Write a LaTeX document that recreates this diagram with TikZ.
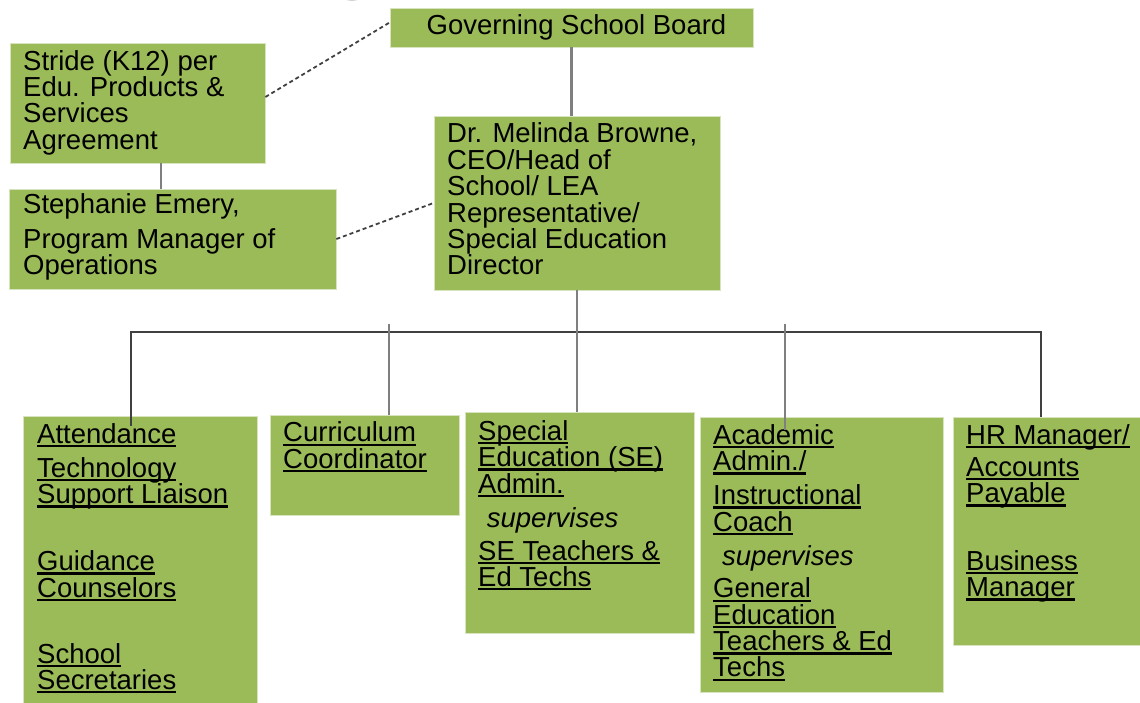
\documentclass[tikz,border=0pt]{standalone}
\usepackage{fontspec}
\setmainfont{Liberation Sans}
\definecolor{boxg}{HTML}{9BBB59}
\definecolor{lineg}{HTML}{7F7F7F}
\definecolor{lined}{HTML}{404040}
\newcommand\myul[1]{\setbox0\hbox{#1}\rlap{\rule[-4pt]{\wd0}{2.2pt}}\box0}
\newcommand\fs{\rule{0pt}{20.5pt}}
\tikzset{
  box/.style={rectangle, fill=boxg, draw=white!60!boxg, line width=0.8pt, inner sep=0pt},
  txt/.style={anchor=north west, inner sep=0pt, align=left, font=\fontsize{27.5}{26.4}\selectfont, text=black},
  solidline/.style={draw=lineg, line width=2.4pt},
  busline/.style={draw=lined, line width=1.8pt},
  dashline/.style={draw=lined, line width=1.8pt, dash pattern=on 4pt off 3pt}
}
\begin{document}
\begin{tikzpicture}[x=1pt,y=-1pt]
\useasboundingbox (0,0) rectangle (1140,703);
% fragment at top
\fill[gray!35] (352,-7) ellipse [x radius=12, y radius=8];
% boxes
\node[box, minimum width=363, minimum height=39, font=\fontsize{27.5}{26.4}\selectfont] (gsb) at (571.5,27.5) {\hspace*{10pt}Governing School Board};
\node[box, minimum width=255, minimum height=120] (stride) at (137.5,103) {};
\node[box, minimum width=327, minimum height=100] (steph) at (172.5,239) {};
\node[box, minimum width=286, minimum height=174] (mel) at (577,203) {};
\node[box, minimum width=234, minimum height=290] (att) at (140,561) {};
\node[box, minimum width=189, minimum height=100] (cur) at (364.5,465) {};
\node[box, minimum width=229, minimum height=221] (se) at (579.5,522.5) {};
\node[box, minimum width=243, minimum height=275] (ac) at (821.5,554.5) {};
\node[box, minimum width=190, minimum height=228] (hr) at (1048,531) {};
% texts
\node[txt] (stridet) at (23,49.5) {\fs Stride (K12) per\\ Edu. Products \&\\ Services\\ Agreement};
\node[txt] (stepht) at (23,192.5) {\fs Stephanie Emery,\\[8.6pt] Program Manager of\\ Operations};
\node[txt] (melt) at (447,122.2) {\fs Dr. Melinda Browne,\\ CEO/Head of\\ School/ LEA\\ Representative/\\ Special Education\\ Director};
\node[txt] (attt) at (37,422.5) {\fs\myul{Attendance}\\[7.6pt] \myul{Technology}\\ \myul{Support Liaison}\\[40.6pt] \myul{Guidance}\\ \myul{Counselors}\\[39.6pt] \myul{School}\\ \myul{Secretaries}};
\node[txt] (curt) at (283,421.2) {\fs\myul{Curriculum}\\ \myul{Coordinator}};
\node[txt] (set) at (478,419.5) {\fs\myul{Special}\\ \myul{Education (SE)}\\ \myul{Admin.}\\[7.6pt] \hspace*{8.7pt}{\itshape supervises}\\[6.6pt] \myul{SE Teachers \&}\\ \myul{Ed Techs}};
\node[txt] (act) at (713,423.5) {\fs\myul{Academic}\\ \myul{Admin./}\\[7.6pt] \myul{Instructional}\\ \myul{Coach}\\[7.6pt] \hspace*{9pt}{\itshape supervises}\\[6.3pt] \myul{General}\\ \myul{Education}\\ \myul{Teachers \& Ed}\\ \myul{Techs}};
\node[txt] (hrt) at (966,423.5) {\fs\myul{HR Manager/}\\[5.6pt] \myul{Accounts}\\ \myul{Payable}\\[41.2pt] \myul{Business}\\ \myul{Manager}};
% connectors
\coordinate (busL) at (131,332);
\coordinate (busR) at (1041,332);
\draw[dashline] ([yshift=6pt]stride.east) -- ([yshift=5pt]gsb.west);
\draw[dashline] (steph.east) -- (mel.west);
\draw[solidline] ([xshift=23.5pt]stride.south) -- ([xshift=23.5pt]stride.south |- steph.north);
\draw[solidline] (gsb.south) -- (gsb.south |- mel.north);
\draw[busline] (busR |- hr.north) -- (busR) -- (busL) -- ([yshift=-10pt]busL |- att.north);
\draw[solidline] (mel.south) -- (mel.south |- se.north);
\draw[solidline] ([xshift=24.5pt,yshift=91pt]cur.north) -- ([xshift=24.5pt]cur.north);
\draw[solidline] ([xshift=-36.5pt,yshift=93pt]ac.north) -- ([xshift=-36.5pt,yshift=-13pt]ac.north);
\end{tikzpicture}
\end{document}
